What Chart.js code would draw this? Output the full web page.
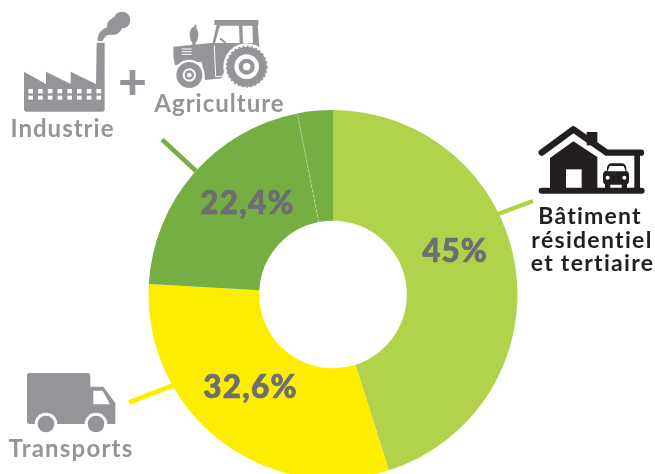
<!DOCTYPE html>
<html lang="fr">
<head>
<meta charset="utf-8">
<script src="https://cdn.jsdelivr.net/npm/chart.js@4"></script>
<style>
html,body{margin:0;padding:0;background:#fff;width:655px;height:474px;overflow:hidden}
canvas{display:block}
</style>
</head>
<body>
<canvas id="c" width="655" height="480"></canvas>
<script>
// Sectors as drawn in the picture (share of the full circle, read from the slice edges)
const sectors = ["Bâtiment résidentiel et tertiaire", "Transports", "Industrie", "Agriculture"];
const drawnShares = [45.1, 30.8, 21.0, 3.1];
const sectorColors = ["#b1d34b", "#ffed00", "#75ae43", "#75ae43"];
// Printed labels
const percentLabels = ["45%", "32,6%", "22,4%"];
const buildingLabel = ["Bâtiment", "résidentiel", "et tertiaire"];
const industryLabel = "Industrie";
const agricultureLabel = "Agriculture";
const transportLabel = "Transports";
const plusSign = "+";

const GREY = "#939598", DARK = "#231f20", PCT = "#6d6e71";

function poly(ctx, pts, color) {
  ctx.fillStyle = color; ctx.beginPath();
  pts.forEach((p, i) => i ? ctx.lineTo(p[0], p[1]) : ctx.moveTo(p[0], p[1]));
  ctx.closePath(); ctx.fill();
}
function disc(ctx, x, y, r, color) {
  ctx.fillStyle = color; ctx.beginPath(); ctx.arc(x, y, r, 0, Math.PI * 2); ctx.fill();
}
function seg(ctx, x1, y1, x2, y2, w, color, cap) {
  ctx.strokeStyle = color; ctx.lineWidth = w; ctx.lineCap = cap || "butt";
  ctx.beginPath(); ctx.moveTo(x1, y1); ctx.lineTo(x2, y2); ctx.stroke();
}
function label(ctx, s, x, y, font, color, spacing, stroke) {
  ctx.font = font; ctx.fillStyle = color; ctx.textAlign = "center"; ctx.textBaseline = "alphabetic";
  ctx.letterSpacing = spacing || "0px";
  ctx.fillText(s, x, y);
  if (stroke) {
    ctx.strokeStyle = color; ctx.lineWidth = stroke; ctx.lineJoin = "round";
    ctx.strokeText(s, x, y);
  }
  ctx.letterSpacing = "0px";
}
function inZoom(ctx, ox, oy, fn) {
  ctx.save(); ctx.translate(ox, oy); ctx.scale(1 / 3, 1 / 3); fn(); ctx.restore();
}

function drawFactory(ctx) {
  inZoom(ctx, 0, 0, () => {
    poly(ctx, [[72,215],[138,252],[138,215],[212,252],[212,215],[288,252],[290,128],[314,128],[314,330],[310,335],[76,335],[72,330]], GREY);
    ctx.fillStyle = "#fff";
    for (let i = 0; i < 8; i++) {
      ctx.fillRect(85 + i * 29.2, 267, 14, 13);
      ctx.fillRect(85 + i * 29.2, 287, 14, 12);
    }
    ctx.fillStyle = GREY; ctx.beginPath();
    ctx.moveTo(293, 123);
    ctx.bezierCurveTo(292, 100, 305, 88, 322, 82);
    ctx.bezierCurveTo(318, 68, 330, 58, 342, 52);
    ctx.arc(366, 60, 25, Math.PI * 1.1, Math.PI * 0.5);
    ctx.bezierCurveTo(360, 100, 345, 108, 330, 104);
    ctx.bezierCurveTo(320, 104, 312, 112, 308, 123);
    ctx.closePath(); ctx.fill();
  });
}
function drawTractor(ctx) {
  inZoom(ctx, 165, 15, () => {
    ctx.fillStyle = GREY;
    ctx.fillRect(148, 15, 132, 15);
    poly(ctx, [[155,30],[278,30],[284,105],[140,95]], GREY);
    poly(ctx, [[165,32],[222,32],[224,84],[150,84]], "#fff");
    poly(ctx, [[232,32],[262,32],[264,84],[234,84]], "#fff");
    seg(ctx, 165, 70, 182, 84, 6, GREY);
    // hood and body
    poly(ctx, [[25,95],[140,84],[285,100],[210,110],[185,150],[170,190],[120,195],[110,140],[30,150],[25,125]], GREY);
    // door line
    seg(ctx, 148, 92, 152, 185, 3, "#fff");
    seg(ctx, 152, 185, 180, 183, 3, "#fff");
    // vents
    for (let i = 0; i < 3; i++) seg(ctx, 50, 102 + i * 8, 80, 102 + i * 8, 3, "#fff");
    // exhaust
    ctx.fillStyle = GREY; ctx.beginPath(); ctx.ellipse(87, 60, 13, 24, 0, 0, Math.PI * 2); ctx.fill();
    ctx.fillRect(82, 75, 10, 15);
    seg(ctx, 87, 42, 93, 30, 6, GREY);
    // rear wheel
    disc(ctx, 245, 155, 70, "#fff");
    disc(ctx, 245, 155, 60, GREY);
    ctx.setLineDash([6, 7]); ctx.strokeStyle = GREY; ctx.lineWidth = 4;
    ctx.beginPath(); ctx.arc(245, 155, 61, 0, Math.PI * 2); ctx.stroke(); ctx.setLineDash([]);
    disc(ctx, 245, 155, 37, "#fff");
    disc(ctx, 245, 155, 24, GREY);
    disc(ctx, 245, 155, 11, "#fff");
    // front wheel
    disc(ctx, 73, 180, 46, "#fff");
    disc(ctx, 73, 180, 39, GREY);
    disc(ctx, 73, 180, 20, "#fff");
    disc(ctx, 73, 180, 14, GREY);
    disc(ctx, 73, 180, 7, "#fff");
  });
}
function drawHouse(ctx) {
  inZoom(ctx, 535, 122, () => {
    ctx.fillStyle = DARK;
    ctx.fillRect(155, 30, 32, 40);
    ctx.lineJoin = "round";
    ctx.strokeStyle = DARK; ctx.lineWidth = 19; ctx.lineCap = "round";
    ctx.beginPath(); ctx.moveTo(20, 92); ctx.lineTo(115, 22); ctx.lineTo(215, 92); ctx.lineTo(318, 92); ctx.stroke();
    poly(ctx, [[115,58],[187,105],[187,205],[45,205],[45,108]], DARK);
    ctx.fillStyle = "#fff"; ctx.fillRect(93, 142, 47, 56);
    ctx.fillStyle = DARK; ctx.fillRect(298, 92, 17, 110);
    seg(ctx, 20, 206, 320, 206, 18, DARK, "round");
    // car
    ctx.fillStyle = DARK; ctx.beginPath(); ctx.roundRect(216, 124, 58, 42, 14); ctx.fill();
    ctx.beginPath(); ctx.roundRect(204, 146, 78, 42, 12); ctx.fill();
    ctx.fillRect(210, 180, 16, 18); ctx.fillRect(260, 180, 16, 18);
    poly(ctx, [[224,132],[266,132],[272,148],[218,148]], "#fff");
    disc(ctx, 218, 167, 6, "#fff");
    disc(ctx, 268, 167, 6, "#fff");
  });
}
function drawTruck(ctx) {
  inZoom(ctx, 0, 350, () => {
    ctx.fillStyle = GREY;
    ctx.beginPath(); ctx.roundRect(81, 69, 190, 153, 8); ctx.fill();
    poly(ctx, [[265,110],[310,110],[346,160],[346,222],[265,222]], GREY);
    poly(ctx, [[280,122],[308,122],[330,163],[280,163]], "#fff");
    [138, 288].forEach(x => {
      disc(ctx, x, 222, 34, "#fff");
      disc(ctx, x, 222, 25, GREY);
    });
  });
}

const decorations = {
  id: "decorations",
  afterDatasetsDraw(chart) {
    const ctx = chart.ctx;
    ctx.save();
    // dashed separator between Industrie and Agriculture, on the library's own arc
    const arc = chart.getDatasetMeta(0).data[3];
    const a = arc.startAngle;
    ctx.setLineDash([3, 2]);
    ctx.strokeStyle = "rgba(255,255,255,0.45)"; ctx.lineWidth = 0.8; ctx.lineCap = "butt";
    ctx.beginPath();
    ctx.moveTo(arc.x + Math.cos(a) * arc.innerRadius, arc.y + Math.sin(a) * arc.innerRadius);
    ctx.lineTo(arc.x + Math.cos(a) * arc.outerRadius, arc.y + Math.sin(a) * arc.outerRadius);
    ctx.stroke();
    ctx.setLineDash([]);

    // leader lines
    seg(ctx, 533, 201, 498, 214, 4.5, "#b1d34b");
    seg(ctx, 129, 402.5, 173, 385.5, 5, "#ffed00");
    seg(ctx, 162, 139.5, 196, 171, 4.5, "#75ae43");

    // percentages
    const pf = "900 31.5px Lato";
    label(ctx, percentLabels[0], 455, 262, pf, PCT, "1px", 0.7);
    label(ctx, percentLabels[1], 250.5, 398, pf, PCT, "1.2px", 0.7);
    label(ctx, percentLabels[2], 247.5, 214, pf, PCT, "1.2px", 0.7);

    // icons
    drawFactory(ctx); drawTractor(ctx); drawHouse(ctx); drawTruck(ctx);

    // captions
    const cf = "700 24px Lato";
    label(ctx, industryLabel, 62.5, 137, cf, GREY, "1px");
    label(ctx, agricultureLabel, 219.5, 112, cf, GREY, "1px");
    label(ctx, transportLabel, 71, 457, cf, GREY, "1.2px");
    label(ctx, plusSign, 132.5, 99, "900 50px Lato", GREY);
    const bf = "700 23px Lato";
    label(ctx, buildingLabel[0], 590, 224, bf, DARK, "1.2px");
    label(ctx, buildingLabel[1], 592, 248, bf, DARK, "1.3px");
    label(ctx, buildingLabel[2], 592.5, 271, bf, DARK, "1.3px");
    ctx.restore();
  }
};

new Chart(document.getElementById("c"), {
  type: "doughnut",
  data: {
    labels: sectors,
    datasets: [{
      data: drawnShares,
      backgroundColor: sectorColors,
      borderWidth: 0,
      hoverOffset: 0
    }]
  },
  options: {
    responsive: false,
    animation: false,
    cutout: "40%",
    layout: { padding: { left: 148.5, right: 137.5, top: 110, bottom: 1 } },
    plugins: { legend: { display: false }, tooltip: { enabled: false } }
  },
  plugins: [decorations]
});
</script>
</body>
</html>
